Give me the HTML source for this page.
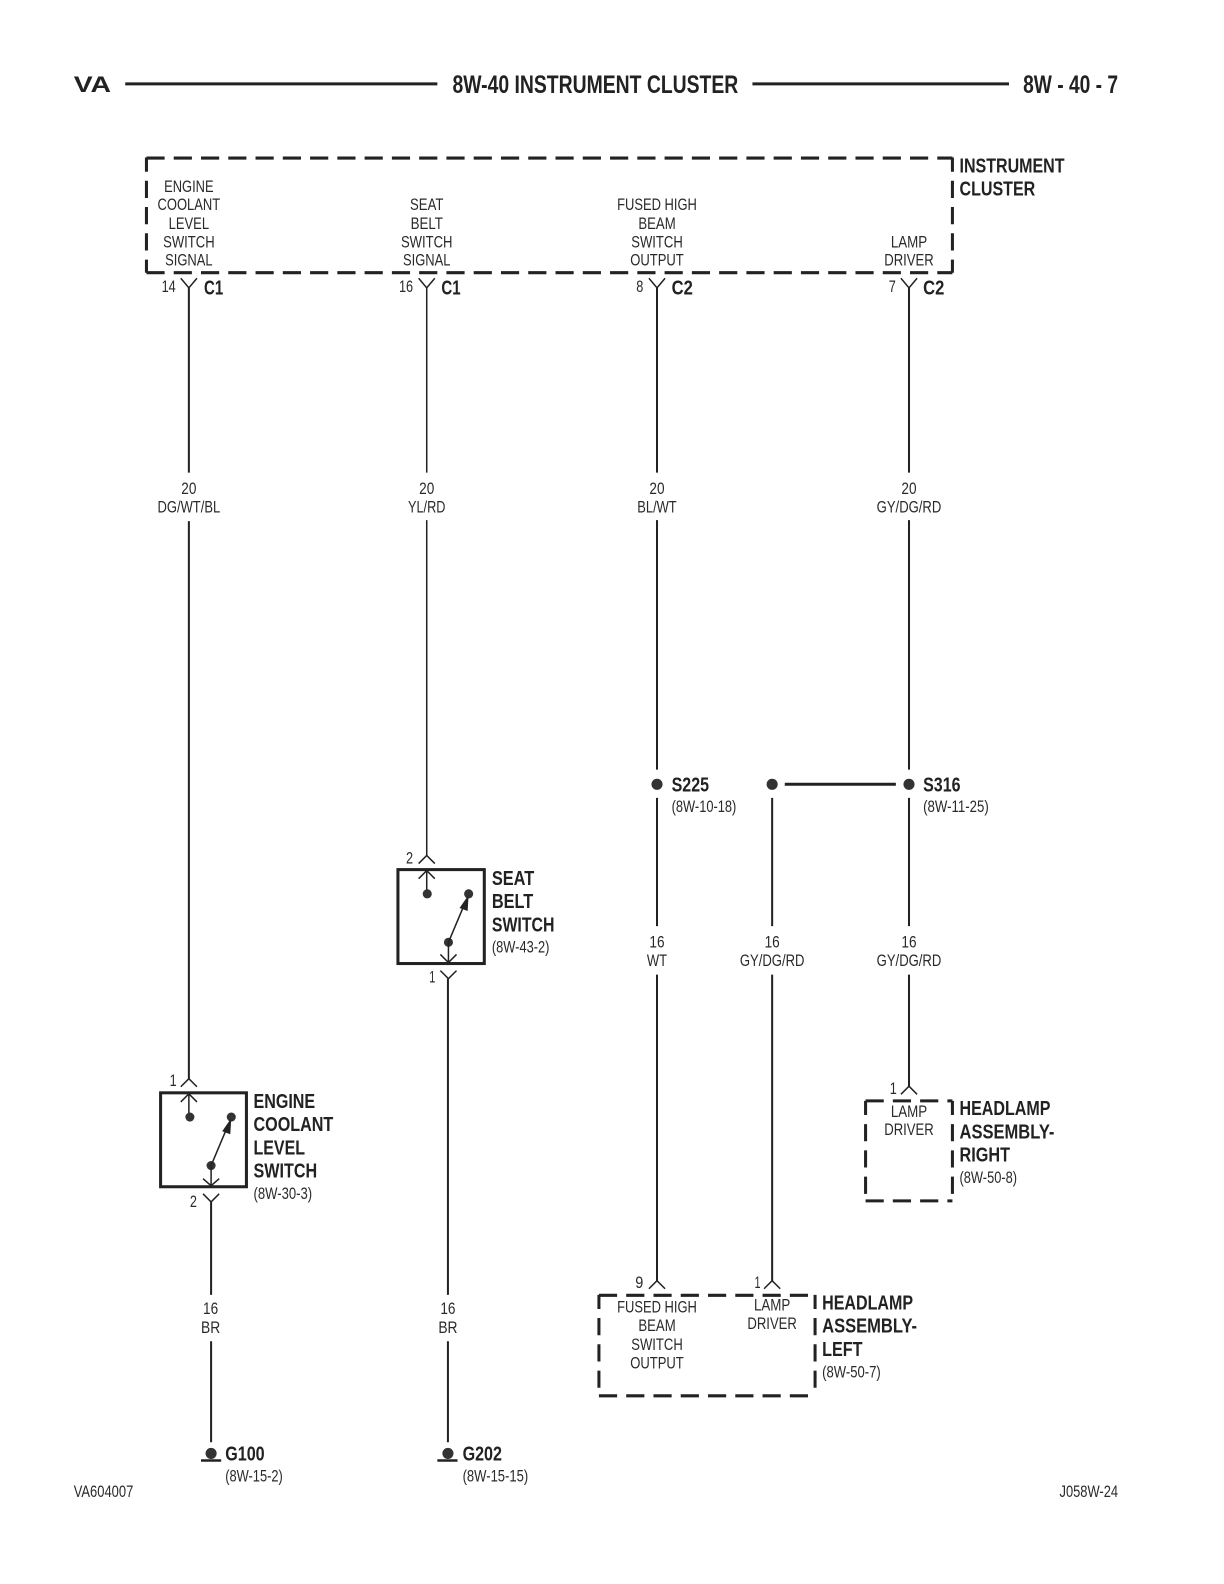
<!DOCTYPE html>
<html><head><meta charset="utf-8"><title>8W-40 Instrument Cluster</title>
<style>
html,body{margin:0;padding:0;background:#fff;width:1224px;height:1584px;overflow:hidden}
svg{display:block}
text{font-family:"Liberation Sans",sans-serif;fill:#2a2a2a}
.n{font-size:16px}
.c{font-size:16px;text-anchor:middle}
.b{font-size:20.5px;font-weight:bold;fill:#222}
.h{font-size:25px;font-weight:bold;fill:#222}
.w{fill:none;stroke:#222;stroke-width:2}
.t{fill:none;stroke:#222;stroke-width:1.5}
.k{fill:none;stroke:#222;stroke-width:3}
.d{fill:none;stroke:#222;stroke-width:3;stroke-dasharray:18 9}
.v{fill:none;stroke:#222;stroke-width:3;stroke-dasharray:17 9;stroke-dashoffset:3}
.p{fill:#333}
</style></head><body>
<svg width="1224" height="1584" viewBox="0 0 1224 1584" xmlns="http://www.w3.org/2000/svg">
<g transform="scale(1.01)">
<!-- header -->
<text x="73" y="91" textLength="37" lengthAdjust="spacingAndGlyphs" style="font-size:22px;font-weight:bold;fill:#222">VA</text>
<path class="k" d="M124 83H433M745 83H999"/>
<text class="h" x="448" y="92" textLength="283" lengthAdjust="spacingAndGlyphs">8W-40 INSTRUMENT CLUSTER</text>
<text class="h" x="1013" y="92" textLength="94" lengthAdjust="spacingAndGlyphs">8W - 40 - 7</text>

<!-- instrument cluster -->
<path class="d" d="M145 156.500H943"/><path class="d" d="M145 270H943"/>
<path class="v" d="M145 156V270"/><path class="v" d="M943 156V270"/>
<g>
<text class="c" x="187" y="190" textLength="49" lengthAdjust="spacingAndGlyphs">ENGINE</text>
<text class="c" x="187" y="208" textLength="62" lengthAdjust="spacingAndGlyphs">COOLANT</text>
<text class="c" x="187" y="226.500" textLength="40" lengthAdjust="spacingAndGlyphs">LEVEL</text>
<text class="c" x="187" y="245" textLength="51" lengthAdjust="spacingAndGlyphs">SWITCH</text>
<text class="c" x="187" y="263" textLength="47" lengthAdjust="spacingAndGlyphs">SIGNAL</text>
<text class="c" x="422.500" y="208" textLength="33" lengthAdjust="spacingAndGlyphs">SEAT</text>
<text class="c" x="422.500" y="226.500" textLength="32" lengthAdjust="spacingAndGlyphs">BELT</text>
<text class="c" x="422.500" y="245" textLength="51" lengthAdjust="spacingAndGlyphs">SWITCH</text>
<text class="c" x="422.500" y="263" textLength="47" lengthAdjust="spacingAndGlyphs">SIGNAL</text>
<text class="c" x="650.500" y="208" textLength="79" lengthAdjust="spacingAndGlyphs">FUSED HIGH</text>
<text class="c" x="650.500" y="226.500" textLength="37" lengthAdjust="spacingAndGlyphs">BEAM</text>
<text class="c" x="650.500" y="245" textLength="51" lengthAdjust="spacingAndGlyphs">SWITCH</text>
<text class="c" x="650.500" y="263" textLength="53" lengthAdjust="spacingAndGlyphs">OUTPUT</text>
<text class="c" x="900" y="245" textLength="36" lengthAdjust="spacingAndGlyphs">LAMP</text>
<text class="c" x="900" y="263" textLength="49" lengthAdjust="spacingAndGlyphs">DRIVER</text>
</g>
<text class="b" x="950" y="171" textLength="104" lengthAdjust="spacingAndGlyphs">INSTRUMENT</text>
<text class="b" x="950" y="193.500" textLength="75" lengthAdjust="spacingAndGlyphs">CLUSTER</text>

<!-- pins / connectors top -->
<text class="n" x="160" y="289" textLength="14" lengthAdjust="spacingAndGlyphs">14</text>
<text class="n" x="395" y="289" textLength="14" lengthAdjust="spacingAndGlyphs">16</text>
<text class="n" x="630" y="289" textLength="7" lengthAdjust="spacingAndGlyphs">8</text>
<text class="n" x="880" y="289" textLength="7" lengthAdjust="spacingAndGlyphs">7</text>
<text class="b" x="202" y="291.500" textLength="19" lengthAdjust="spacingAndGlyphs">C1</text>
<text class="b" x="437" y="291.500" textLength="19" lengthAdjust="spacingAndGlyphs">C1</text>
<text class="b" x="665" y="291.500" textLength="21" lengthAdjust="spacingAndGlyphs">C2</text>
<text class="b" x="914" y="291.500" textLength="21" lengthAdjust="spacingAndGlyphs">C2</text>
<path class="t" d="M179 275.500L187 285L195 275.500M414.500 275.500L422.500 285L430.500 275.500M642.500 275.500L650.500 285L658.500 275.500M892 275.500L900 285L908 275.500"/>

<!-- wires -->
<path class="w" d="M187 285V468M187 516V1068"/>
<path class="t" d="M422.500 285V468M422.500 515V847"/>
<path class="w" d="M650.500 285V468M650.500 515V762M650.500 790V917M650.500 965V1268"/>
<path class="w" d="M900 285V468M900 515V762M900 790V917M900 965V1076"/>
<path class="w" d="M764.500 790V917M764.500 965V1268"/>
<path class="w" d="M209 1190V1282M209 1328V1428"/>
<path class="w" d="M443.500 969V1282M443.500 1328V1428"/>

<!-- wire labels -->
<text class="c" x="187" y="489" textLength="15" lengthAdjust="spacingAndGlyphs">20</text>
<text class="c" x="187" y="507.500" textLength="62" lengthAdjust="spacingAndGlyphs">DG/WT/BL</text>
<text class="c" x="422.500" y="489" textLength="15" lengthAdjust="spacingAndGlyphs">20</text>
<text class="c" x="422.500" y="507.500" textLength="37" lengthAdjust="spacingAndGlyphs">YL/RD</text>
<text class="c" x="650.500" y="489" textLength="15" lengthAdjust="spacingAndGlyphs">20</text>
<text class="c" x="650.500" y="507.500" textLength="39" lengthAdjust="spacingAndGlyphs">BL/WT</text>
<text class="c" x="900" y="489" textLength="15" lengthAdjust="spacingAndGlyphs">20</text>
<text class="c" x="900" y="507.500" textLength="64" lengthAdjust="spacingAndGlyphs">GY/DG/RD</text>
<text class="c" x="650.500" y="938" textLength="15" lengthAdjust="spacingAndGlyphs">16</text>
<text class="c" x="650.500" y="956.500" textLength="20" lengthAdjust="spacingAndGlyphs">WT</text>
<text class="c" x="764.500" y="938" textLength="15" lengthAdjust="spacingAndGlyphs">16</text>
<text class="c" x="764.500" y="956.500" textLength="64" lengthAdjust="spacingAndGlyphs">GY/DG/RD</text>
<text class="c" x="900" y="938" textLength="15" lengthAdjust="spacingAndGlyphs">16</text>
<text class="c" x="900" y="956.500" textLength="64" lengthAdjust="spacingAndGlyphs">GY/DG/RD</text>
<text class="c" x="208.500" y="1301" textLength="15" lengthAdjust="spacingAndGlyphs">16</text>
<text class="c" x="208.500" y="1320" textLength="19" lengthAdjust="spacingAndGlyphs">BR</text>
<text class="c" x="443.500" y="1301" textLength="15" lengthAdjust="spacingAndGlyphs">16</text>
<text class="c" x="443.500" y="1320" textLength="19" lengthAdjust="spacingAndGlyphs">BR</text>

<!-- splices -->
<circle class="p" cx="650.500" cy="776.500" r="5.500"/>
<circle class="p" cx="764.500" cy="776.500" r="5.500"/>
<circle class="p" cx="900" cy="776.500" r="5.500"/>
<path class="k" d="M777 776.500H887"/>
<text class="b" x="665" y="783.500" textLength="37" lengthAdjust="spacingAndGlyphs">S225</text>
<text class="n" x="665" y="804" textLength="64" lengthAdjust="spacingAndGlyphs">(8W-10-18)</text>
<text class="b" x="914" y="783.500" textLength="37" lengthAdjust="spacingAndGlyphs">S316</text>
<text class="n" x="914" y="804" textLength="65" lengthAdjust="spacingAndGlyphs">(8W-11-25)</text>

<!-- seat belt switch -->
<rect class="k" x="394" y="861" width="85.500" height="93"/>
<path class="t" d="M414.500 855L422.500 847L430.500 855M414.500 870L422.500 862L430.500 870M422.500 862V885"/>
<circle class="p" cx="423" cy="885" r="4.500"/><circle class="p" cx="464" cy="885" r="4.500"/><circle class="p" cx="444" cy="933" r="4.500"/>
<path class="t" d="M444 933L460 895"/><path d="M464 886L463 902L455 899Z" fill="#222"/>
<path class="t" d="M444 933V953M436 945L444 953L452 945M436 961L444 969L452 961"/>
<text class="n" x="402" y="855" textLength="7" lengthAdjust="spacingAndGlyphs">2</text>
<text class="n" x="425" y="973" textLength="6" lengthAdjust="spacingAndGlyphs">1</text>
<text class="b" x="487" y="876" textLength="42" lengthAdjust="spacingAndGlyphs">SEAT</text>
<text class="b" x="487" y="899" textLength="41" lengthAdjust="spacingAndGlyphs">BELT</text>
<text class="b" x="487" y="922.500" textLength="62" lengthAdjust="spacingAndGlyphs">SWITCH</text>
<text class="n" x="487" y="943" textLength="57" lengthAdjust="spacingAndGlyphs">(8W-43-2)</text>

<!-- engine coolant level switch -->
<rect class="k" x="159" y="1082" width="85" height="93"/>
<path class="t" d="M179 1076L187 1068L195 1076M179 1091L187 1083L195 1091M187 1083V1106"/>
<circle class="p" cx="188" cy="1106" r="4.500"/><circle class="p" cx="229" cy="1106" r="4.500"/><circle class="p" cx="209" cy="1154" r="4.500"/>
<path class="t" d="M209 1154L225 1116"/><path d="M229 1107L228 1123L220 1120Z" fill="#222"/>
<path class="t" d="M209 1154V1174M201 1167L209 1174L217 1167M201 1182L209 1190L217 1182"/>
<text class="n" x="168" y="1075" textLength="7" lengthAdjust="spacingAndGlyphs">1</text>
<text class="n" x="188" y="1195" textLength="7" lengthAdjust="spacingAndGlyphs">2</text>
<text class="b" x="251" y="1097" textLength="61" lengthAdjust="spacingAndGlyphs">ENGINE</text>
<text class="b" x="251" y="1120" textLength="79" lengthAdjust="spacingAndGlyphs">COOLANT</text>
<text class="b" x="251" y="1143" textLength="51" lengthAdjust="spacingAndGlyphs">LEVEL</text>
<text class="b" x="251" y="1166" textLength="63" lengthAdjust="spacingAndGlyphs">SWITCH</text>
<text class="n" x="251" y="1187" textLength="58" lengthAdjust="spacingAndGlyphs">(8W-30-3)</text>

<!-- headlamp right -->
<path class="d" d="M857 1090H943M857 1189H943"/><path class="v" d="M857 1090V1189"/><path class="v" d="M943 1090V1189"/>
<path class="t" d="M892 1083.500L900 1075.500L908 1083.500"/>
<text class="n" x="881" y="1083" textLength="7" lengthAdjust="spacingAndGlyphs">1</text>
<text class="c" x="900" y="1106" textLength="36" lengthAdjust="spacingAndGlyphs">LAMP</text>
<text class="c" x="900" y="1124" textLength="49" lengthAdjust="spacingAndGlyphs">DRIVER</text>
<text class="b" x="950" y="1104" textLength="90" lengthAdjust="spacingAndGlyphs">HEADLAMP</text>
<text class="b" x="950" y="1127" textLength="94" lengthAdjust="spacingAndGlyphs">ASSEMBLY-</text>
<text class="b" x="950" y="1150" textLength="50" lengthAdjust="spacingAndGlyphs">RIGHT</text>
<text class="n" x="950" y="1171.500" textLength="57" lengthAdjust="spacingAndGlyphs">(8W-50-8)</text>

<!-- headlamp left -->
<path class="d" d="M593 1282.500H807M593 1382H807"/><path class="v" d="M593 1282V1382"/><path class="v" d="M807 1282V1382"/>
<path class="t" d="M642.500 1276L650.500 1268L658.500 1276M756.500 1276L764.500 1268L772.500 1276"/>
<text class="n" x="629" y="1275" textLength="8" lengthAdjust="spacingAndGlyphs">9</text>
<text class="n" x="747" y="1275" textLength="6" lengthAdjust="spacingAndGlyphs">1</text>
<text class="c" x="650.500" y="1299.500" textLength="79" lengthAdjust="spacingAndGlyphs">FUSED HIGH</text>
<text class="c" x="650.500" y="1318" textLength="37" lengthAdjust="spacingAndGlyphs">BEAM</text>
<text class="c" x="650.500" y="1336.500" textLength="51" lengthAdjust="spacingAndGlyphs">SWITCH</text>
<text class="c" x="650.500" y="1355" textLength="53" lengthAdjust="spacingAndGlyphs">OUTPUT</text>
<text class="c" x="764.500" y="1297.500" textLength="36" lengthAdjust="spacingAndGlyphs">LAMP</text>
<text class="c" x="764.500" y="1316" textLength="49" lengthAdjust="spacingAndGlyphs">DRIVER</text>
<text class="b" x="814" y="1296.500" textLength="90" lengthAdjust="spacingAndGlyphs">HEADLAMP</text>
<text class="b" x="814" y="1319.500" textLength="94" lengthAdjust="spacingAndGlyphs">ASSEMBLY-</text>
<text class="b" x="814" y="1342.500" textLength="40" lengthAdjust="spacingAndGlyphs">LEFT</text>
<text class="n" x="814" y="1364" textLength="58" lengthAdjust="spacingAndGlyphs">(8W-50-7)</text>

<!-- grounds -->
<circle class="p" cx="209" cy="1439" r="5.500"/><path class="k" style="stroke-width:2.500" d="M199 1446H219"/>
<circle class="p" cx="443.500" cy="1439" r="5.500"/><path class="k" style="stroke-width:2.500" d="M433 1446H453"/>
<text class="b" x="223" y="1446" textLength="39" lengthAdjust="spacingAndGlyphs">G100</text>
<text class="n" x="223" y="1467" textLength="57" lengthAdjust="spacingAndGlyphs">(8W-15-2)</text>
<text class="b" x="458" y="1446" textLength="39" lengthAdjust="spacingAndGlyphs">G202</text>
<text class="n" x="458" y="1467" textLength="65" lengthAdjust="spacingAndGlyphs">(8W-15-15)</text>

<!-- footer -->
<text class="n" x="73" y="1482" textLength="59" lengthAdjust="spacingAndGlyphs">VA604007</text>
<text class="n" x="1049" y="1482" textLength="58" lengthAdjust="spacingAndGlyphs">J058W-24</text>
</g>
</svg>
</body></html>
